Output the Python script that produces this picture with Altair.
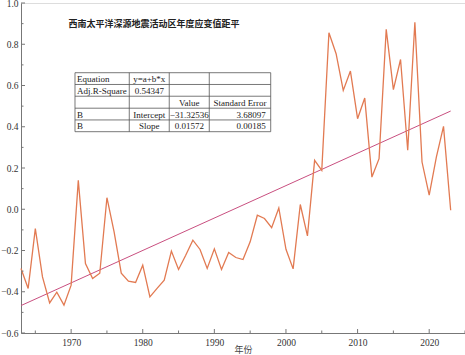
import altair as alt
import pandas as pd

# ---- data ----
years = list(range(1963, 2024))
values = [
    -0.287, -0.384, -0.094, -0.328, -0.454, -0.402, -0.465, -0.368, 0.140, -0.263,
    -0.336, -0.310, 0.056, -0.110, -0.310, -0.349, -0.355, -0.271, -0.425, -0.384,
    -0.344, -0.203, -0.292, -0.223, -0.150, -0.195, -0.287, -0.192, -0.292, -0.210,
    -0.234, -0.244, -0.158, -0.029, -0.045, -0.089, 0.006, -0.194, -0.289, 0.023,
    -0.129, 0.237, 0.189, 0.856, 0.754, 0.576, 0.670, 0.439, 0.539, 0.156,
    0.245, 0.872, 0.580, 0.726, 0.286, 0.907, 0.229, 0.068, 0.253, 0.402,
    -0.005,
]
intercept = -31.32536
slope = 0.01572
adj_r2 = "0.54347"
intercept_err = "3.68097"
slope_err = "0.00185"

title_text = "西南太平洋深源地震活动区年度应变值距平"
x_title = "年份"

x_ticks_major = [1970, 1980, 1990, 2000, 2010, 2020]
y_ticks_major = [-0.6, -0.4, -0.2, 0.0, 0.2, 0.4, 0.6, 0.8, 1.0]

# ---- tables for the library ----
df = pd.DataFrame({"year": years, "value": values})
fit = pd.DataFrame({
    "year": [years[0], years[-1]],
    "value": [intercept + slope * years[0], intercept + slope * years[-1]],
})

X_DOM = [1963, 2025]
Y_DOM = [-0.6, 1.0]
xs = alt.Scale(domain=X_DOM, nice=False, zero=False)
ys = alt.Scale(domain=Y_DOM, nice=False, zero=False)

SERIF = "Liberation Serif"
CJK = "Noto Sans CJK SC"
AXC = "#777777"

base = alt.Chart(df)

line = base.mark_line(color="#E27A52", strokeWidth=1.3).encode(
    x=alt.X("year:Q", scale=xs,
            axis=alt.Axis(values=x_ticks_major, format="d", title=x_title,
                          titleFont=CJK, titleFontSize=9, titleFontWeight="normal",
                          titleColor="#444444", titleY=16, titleBaseline="middle",
                          labelFont=SERIF, labelFontSize=9.5, labelColor="#333333",
                          labelPadding=4, tickSize=0, grid=False,
                          domainColor=AXC, domainWidth=1)),
    y=alt.Y("value:Q", scale=ys,
            axis=alt.Axis(values=y_ticks_major, format=".1f", title=None,
                          labelFont=SERIF, labelFontSize=9.5, labelColor="#333333",
                          labelPadding=3, tickSize=0, grid=False,
                          domainColor=AXC, domainWidth=1)),
)

fit_line = alt.Chart(fit).mark_line(color="#C94F80", strokeWidth=1.0).encode(
    x=alt.X("year:Q", scale=xs), y=alt.Y("value:Q", scale=ys)
)

# inward ticks
ytick_df = pd.DataFrame({"v": [round(-0.6 + 0.1 * i, 1) for i in range(17)]})
ytick_df["major"] = [i % 2 == 0 for i in range(17)]
ytick_major = alt.Chart(ytick_df[ytick_df.major]).mark_rule(color=AXC, strokeWidth=1).encode(
    y=alt.Y("v:Q", scale=ys), x=alt.value(0), x2=alt.value(4))
ytick_minor = alt.Chart(ytick_df[~ytick_df.major]).mark_rule(color=AXC, strokeWidth=1).encode(
    y=alt.Y("v:Q", scale=ys), x=alt.value(0), x2=alt.value(2.5))

xtick_df = pd.DataFrame({"yr": list(range(1965, 2026, 5))})
xtick_df["major"] = [y % 10 == 0 for y in xtick_df.yr]
xtick_major = alt.Chart(xtick_df[xtick_df.major]).mark_rule(color=AXC, strokeWidth=1).encode(
    x=alt.X("yr:Q", scale=xs), y=alt.value(330), y2=alt.value(326))
xtick_minor = alt.Chart(xtick_df[~xtick_df.major]).mark_rule(color=AXC, strokeWidth=1).encode(
    x=alt.X("yr:Q", scale=xs), y=alt.value(330), y2=alt.value(327.5))

# ---- fit-result table (annotation placed in data units) ----
col_edges = [1970.54, 1978.12, 1983.70, 1989.29, 1997.87]
row_edges = [0.662, 0.605, 0.548, 0.490, 0.433, 0.376]

tbl_bg = alt.Chart(pd.DataFrame({"x": [col_edges[0]], "x2": [col_edges[-1]],
                                 "y": [row_edges[0]], "y2": [row_edges[-1]]})).mark_rect(
    fill="white").encode(
    x=alt.X("x:Q", scale=xs), x2="x2:Q", y=alt.Y("y:Q", scale=ys), y2="y2:Q")

hl = pd.DataFrame({"y": row_edges, "x": col_edges[0], "x2": col_edges[-1]})
vl = pd.DataFrame({"x": col_edges, "y": row_edges[0], "y2": row_edges[-1]})
tbl_h = alt.Chart(hl).mark_rule(color="#555555", strokeWidth=0.8).encode(
    y=alt.Y("y:Q", scale=ys), x=alt.X("x:Q", scale=xs), x2="x2:Q")
tbl_v = alt.Chart(vl).mark_rule(color="#555555", strokeWidth=0.8).encode(
    x=alt.X("x:Q", scale=xs), y=alt.Y("y:Q", scale=ys), y2="y2:Q")

rc = [(row_edges[i] + row_edges[i + 1]) / 2 for i in range(5)]
cc = [(col_edges[i] + col_edges[i + 1]) / 2 for i in range(4)]

left_txt = pd.DataFrame({
    "x": [col_edges[0]] * 4,
    "y": [rc[0], rc[1], rc[3], rc[4]],
    "t": ["Equation", "Adj.R-Square", "B", "B"],
})
center_txt = pd.DataFrame({
    "x": [cc[1], cc[1], cc[2], cc[3], cc[1], cc[2], cc[1], cc[2]],
    "y": [rc[0], rc[1], rc[2], rc[2], rc[3], rc[3], rc[4], rc[4]],
    "t": ["y=a+b*x", adj_r2, "Value", "Standard Error", "Intercept",
          "\u221231.32536", "Slope", "0.01572"],
})
right_txt = pd.DataFrame({
    "x": [col_edges[-1]] * 2,
    "y": [rc[3], rc[4]],
    "t": [intercept_err, slope_err],
})

def txt(d, align, dx):
    return alt.Chart(d).mark_text(align=align, baseline="middle", dx=dx, dy=0.5,
                                  font=SERIF, fontSize=9, color="#222222").encode(
        x=alt.X("x:Q", scale=xs), y=alt.Y("y:Q", scale=ys), text="t:N")

title = alt.Chart(pd.DataFrame({"t": [title_text]})).mark_text(
    align="center", baseline="middle", font=CJK, fontSize=9, fontWeight="bold",
    color="#222222").encode(x=alt.value(133), y=alt.value(21), text="t:N")

chart = alt.layer(
    tbl_bg, fit_line, line, tbl_h, tbl_v,
    txt(left_txt, "left", 2), txt(center_txt, "center", 0), txt(right_txt, "right", -5),
    title, ytick_major, ytick_minor, xtick_major, xtick_minor,
).properties(
    width=444, height=330,
    padding={"left": 21, "top": 3, "right": 0, "bottom": 22},
    autosize=alt.AutoSizeParams(type="none"),
).configure_view(stroke=None).configure(background="white")

chart.save("out.html", embed_options={"renderer": "svg", "actions": False})
